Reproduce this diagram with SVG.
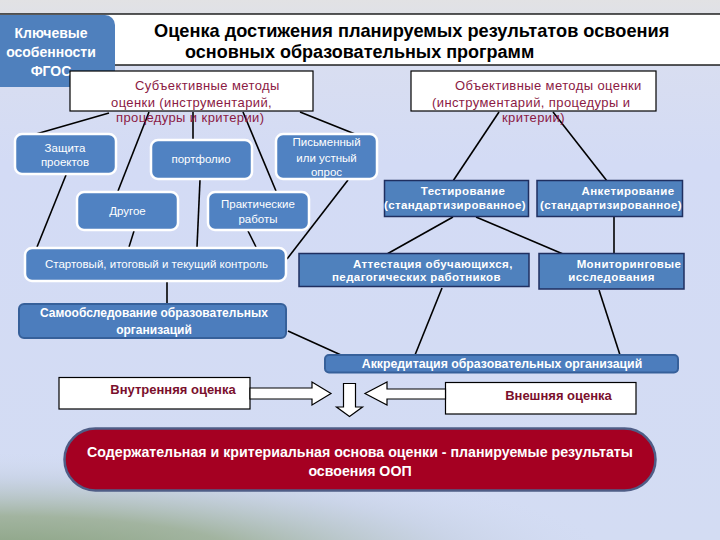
<svg xmlns="http://www.w3.org/2000/svg" width="720" height="540" viewBox="0 0 720 540">
<defs>
<linearGradient id="bg" x1="0" y1="0" x2="0" y2="1">
<stop offset="0" stop-color="#e2e2e4"/>
<stop offset="0.1" stop-color="#d9def0"/>
<stop offset="0.3" stop-color="#d3dbf5"/>
<stop offset="1" stop-color="#d3dcf3"/>
</linearGradient>
<radialGradient id="green" cx="0.5" cy="0.5" r="0.5">
<stop offset="0" stop-color="#86a07e"/>
<stop offset="0.4" stop-color="#a2b4a0"/>
<stop offset="0.75" stop-color="#c4cfe0" stop-opacity="0.6"/>
<stop offset="1" stop-color="#d3dcf3" stop-opacity="0"/>
</radialGradient>
<style>
.ln{stroke:#000;stroke-width:1.6;fill:none}
.rn{fill:#5082c2;stroke:#fff;stroke-width:2.5}
.sq{fill:#4f81bd;stroke:#1f2f60;stroke-width:1.5}
.dk{fill:#4c7dbd;stroke:#36609a;stroke-width:2}
.wb{fill:#fff;stroke:#000;stroke-width:1.2}
.t{font-family:"Liberation Sans",Arial,sans-serif}
.w{fill:#fff}
.m{fill:#8b1a44}
.mb{fill:#7a0f2c;font-weight:bold}
.b{font-weight:bold}
.arr{fill:#fff;stroke:#000;stroke-width:1.2}
.rt{font-size:11.5px;letter-spacing:0.4px}
.lt{font-size:11.5px}
</style>
</defs>
<rect width="720" height="540" fill="url(#bg)"/>
<rect x="-620" y="450" width="1240" height="220" fill="url(#green)"/>

<g id="title">
<rect x="-2" y="14" width="730" height="51" fill="#fff" stroke="#000" stroke-width="1.3"/>
<text class="t b" x="154" y="37" font-size="18.2" fill="#000">Оценка достижения  планируемых результатов освоения</text>
<text class="t b" x="185" y="58" font-size="18" fill="#000">основных образовательных программ</text>
</g>

<g id="fgos">
<rect x="-12" y="15" width="127" height="72" rx="10" fill="#4f80bd"/>
<text class="t b w" font-size="14" text-anchor="middle"><tspan x="51" y="38">Ключевые</tspan><tspan x="51" y="57">особенности</tspan><tspan x="51" y="76">ФГОС</tspan></text>
</g>

<g id="connectors">
<line class="ln" x1="109" y1="113" x2="36" y2="134"/>
<line class="ln" x1="149" y1="112" x2="118" y2="191"/>
<line class="ln" x1="193" y1="112" x2="193" y2="140"/>
<line class="ln" x1="243" y1="112" x2="276" y2="191"/>
<line class="ln" x1="300" y1="112" x2="355" y2="134"/>
<line class="ln" x1="66" y1="175" x2="37" y2="247"/>
<line class="ln" x1="134" y1="231" x2="129" y2="247"/>
<line class="ln" x1="200" y1="180" x2="197" y2="247"/>
<line class="ln" x1="248" y1="231" x2="256" y2="247"/>
<line class="ln" x1="348" y1="180" x2="287" y2="259"/>
<line class="ln" x1="167" y1="282" x2="167" y2="304"/>
<line class="ln" x1="288" y1="331" x2="341" y2="355"/>
<line class="ln" x1="499" y1="112" x2="453" y2="181"/>
<line class="ln" x1="553" y1="112" x2="607" y2="181"/>
<line class="ln" x1="453" y1="217" x2="387" y2="254"/>
<line class="ln" x1="476" y1="217" x2="563" y2="254"/>
<line class="ln" x1="614" y1="217" x2="614" y2="254"/>
<line class="ln" x1="442" y1="288" x2="415" y2="355"/>
<line class="ln" x1="599" y1="290" x2="620" y2="355"/>
</g>

<g id="subj">
<rect class="wb" x="70" y="71" width="243" height="40"/>
<text class="t m" font-size="13" letter-spacing="0.4"><tspan x="135" y="90">Субъективные методы</tspan><tspan x="111" y="106.5">оценки (инструментарий,</tspan><tspan x="116" y="122">процедуры и критерии)</tspan></text>
</g>

<g id="obj">
<rect class="wb" x="411" y="71" width="245" height="40"/>
<text class="t m" font-size="13" letter-spacing="0.4"><tspan x="455" y="90">Объективные методы оценки</tspan><tspan x="432" y="106.5">(инструментарий, процедуры и</tspan><tspan x="502" y="122">критерии)</tspan></text>
</g>

<g id="zashchita">
<rect class="rn" x="15" y="134" width="101" height="40" rx="7"/>
<text class="t w lt" text-anchor="middle"><tspan x="65" y="152">Защита</tspan><tspan x="65" y="165.5">проектов</tspan></text>
</g>
<g id="portfolio">
<rect class="rn" x="151" y="140" width="101" height="39" rx="7"/>
<text class="t w lt" text-anchor="middle" x="201" y="163">портфолио</text>
</g>
<g id="opros">
<rect class="rn" x="276" y="134" width="101" height="45" rx="7"/>
<text class="t w lt" text-anchor="middle"><tspan x="326.5" y="146">Письменный</tspan><tspan x="326.5" y="161.5">или устный</tspan><tspan x="326.5" y="176">опрос</tspan></text>
</g>
<g id="drugoe">
<rect class="rn" x="77" y="192" width="101" height="38" rx="7"/>
<text class="t w lt" text-anchor="middle" x="127.5" y="215">Другое</text>
</g>
<g id="praktika">
<rect class="rn" x="208" y="192" width="101" height="38" rx="7"/>
<text class="t w lt" text-anchor="middle"><tspan x="258" y="208">Практические</tspan><tspan x="258" y="222.5">работы</tspan></text>
</g>
<g id="kontrol">
<rect class="rn" x="25" y="248" width="261" height="33" rx="7"/>
<text class="t w lt" text-anchor="middle" x="156.5" y="268">Стартовый,  итоговый и текущий контроль</text>
</g>

<g id="test">
<rect class="sq" x="384.5" y="180.5" width="144" height="36"/>
<text class="t w b rt" text-anchor="middle"><tspan x="463" y="194.5">Тестирование</tspan><tspan x="455" y="208.5">(стандартизированное)</tspan></text>
</g>
<g id="anket">
<rect class="sq" x="537" y="180.5" width="145.5" height="36"/>
<text class="t w b rt" text-anchor="middle"><tspan x="628" y="194.5">Анкетирование</tspan><tspan x="611" y="208.5">(стандартизированное)</tspan></text>
</g>
<g id="attest">
<rect class="sq" x="299" y="253.5" width="230" height="33"/>
<text class="t w b rt"><tspan x="353" y="268">Аттестация обучающихся,</tspan><tspan x="332" y="281">педагогических работников</tspan></text>
</g>
<g id="monitor">
<rect class="sq" x="539" y="253.5" width="145" height="35.5"/>
<text class="t w b rt" text-anchor="middle"><tspan x="629" y="268">Мониторинговые</tspan><tspan x="611.5" y="281">исследования</tspan></text>
</g>

<g id="samoobsl">
<rect class="dk" x="19" y="304" width="267" height="34" rx="5"/>
<text class="t w b" font-size="12" text-anchor="middle"><tspan x="154" y="317">Самообследование образовательных</tspan><tspan x="154" y="333.5">организаций</tspan></text>
</g>
<g id="akkred">
<rect class="dk" x="325" y="355" width="353" height="17.5" rx="4"/>
<text class="t w b" font-size="12.3" text-anchor="middle" x="502" y="368">Аккредитация образовательных организаций</text>
</g>

<g id="vnutr">
<rect class="wb" x="59" y="377.5" width="191" height="31.5"/>
<text class="t mb" font-size="13" text-anchor="middle" x="173" y="394">Внутренняя оценка</text>
</g>
<g id="vnesh">
<rect class="wb" x="445.5" y="382.5" width="190.5" height="31.5"/>
<text class="t mb" font-size="13" text-anchor="middle" x="558.5" y="400">Внешняя оценка</text>
</g>

<g id="arrows">
<polygon class="arr" points="250,388 312,388 312,382 331,393.5 312,405 312,399 250,399"/>
<polygon class="arr" points="445.5,389 387,389 387,382 365,393.5 387,405 387,399 445.5,399"/>
<polygon class="arr" points="343.5,383.5 355.5,383.5 355.5,407 362.5,407 349.5,416.5 336.5,407 343.5,407"/>
</g>

<g id="osnova">
<rect x="64.5" y="428.5" width="591" height="62" rx="31" fill="#a50022" stroke="#4f5d86" stroke-width="2.5"/>
<text class="t w b" font-size="14.2" text-anchor="middle"><tspan x="360" y="457">Содержательная и критериальная  основа оценки  - планируемые результаты</tspan><tspan x="360" y="476">освоения ООП</tspan></text>
</g>
</svg>
